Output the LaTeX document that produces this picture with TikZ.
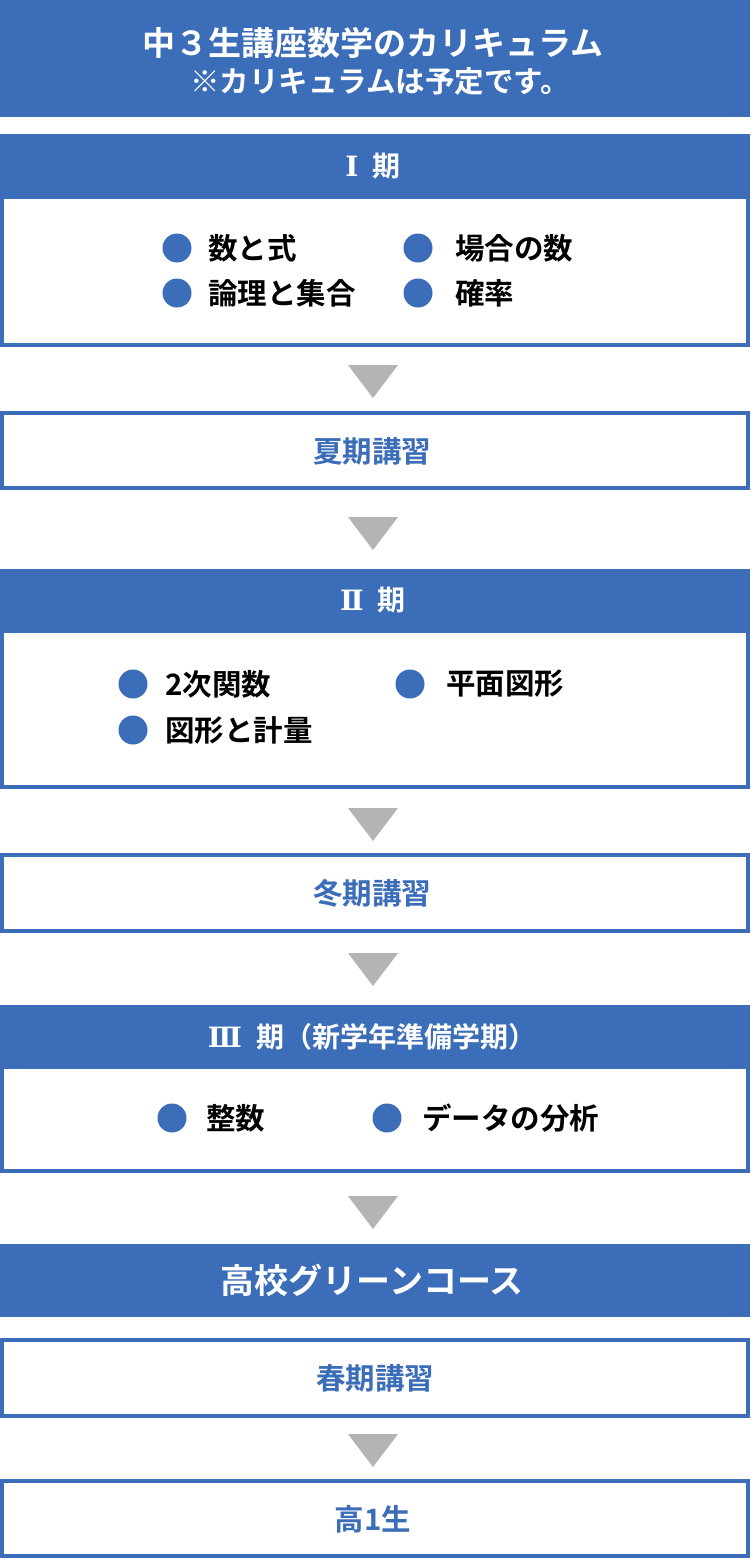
\documentclass[tikz,border=0pt]{standalone}
\usepackage{fontspec}
\setmainfont{Noto Sans CJK JP}[BoldFont={Noto Sans CJK JP Bold}]
\newfontfamily\romanfont{DejaVu Serif}
\usetikzlibrary{calc}
\definecolor{mainblue}{RGB}{59,109,185}
\definecolor{trigray}{RGB}{180,180,180}
\tikzset{
  x=1pt, y=-1pt,
  filledbar/.style={fill=mainblue, draw=none},
  outlinebox/.style={draw=mainblue, line width=4pt, fill=white},
  whitetext/.style={text=white, font=\bfseries\fontsize{28}{32}\selectfont, inner sep=0pt},
  bluetext/.style={text=mainblue, font=\bfseries\fontsize{29.5}{33}\selectfont, inner sep=0pt},
  itemtext/.style={text=black, font=\bfseries\fontsize{29.5}{33}\selectfont, inner sep=0pt, anchor=west},
  dot/.style={circle, fill=mainblue, minimum size=29pt, inner sep=0pt},
  downtri/.style={fill=trigray}
}
\newcommand{\rnum}[1]{{\romanfont\bfseries #1}\hspace{14pt}}
\newcommand{\downarrowmark}[2]{% top y, name
  \coordinate (#2) at (373,#1);
  \fill[downtri] ($(#2)+(-25,0)$) -- ($(#2)+(25,0)$) -- ($(#2)+(0,33)$) -- cycle;
}
\begin{document}
\begin{tikzpicture}
\useasboundingbox (0,0) rectangle (750,1561);
\fill[white] (0,0) rectangle (750,1561);

% Title
\fill[filledbar] (0,0) rectangle (750,117);
\node[whitetext, font=\bfseries\fontsize{33}{36}\selectfont] (title1) at (373,43) {中３生講座数学のカリキュラム};
\node[whitetext, font=\bfseries\fontsize{29.5}{32}\selectfont] (title2) at (380,81) {※カリキュラムは予定です。};

% Phase I
\draw[outlinebox] (2,197) rectangle (748,345);
\fill[filledbar] (0,134) rectangle (750,197);
\node[whitetext] (p1) at (373,166) {\rnum{Ⅰ}期};
\node[dot] (d11) at (177,248) {};
\node[itemtext] (t11) at (208,248) {数と式};
\node[dot] (d12) at (418,248) {};
\node[itemtext] (t12) at (455,248) {場合の数};
\node[dot] (d13) at (177,293) {};
\node[itemtext] (t13) at (208,293) {論理と集合};
\node[dot] (d14) at (418,293) {};
\node[itemtext] (t14) at (455,293) {確率};

\downarrowmark{365}{a1}

% Summer
\draw[outlinebox] (2,413) rectangle (748,488);
\node[bluetext] (summer) at (372,451) {夏期講習};

\downarrowmark{517}{a2}

% Phase II
\draw[outlinebox] (2,631) rectangle (748,787);
\fill[filledbar] (0,569) rectangle (750,631);
\node[whitetext] (p2) at (373,600) {\rnum{Ⅱ}期};
\node[dot] (d21) at (133,684) {};
\node[itemtext] (t21) at (165,684) {2次関数};
\node[dot] (d22) at (410,684) {};
\node[itemtext] (t22) at (446,684) {平面図形};
\node[dot] (d23) at (133,730) {};
\node[itemtext] (t23) at (165,730) {図形と計量};

\downarrowmark{808}{a3}

% Winter
\draw[outlinebox] (2,855) rectangle (748,931);
\node[bluetext] (winter) at (372,893) {冬期講習};

\downarrowmark{953}{a4}

% Phase III
\draw[outlinebox] (2,1067) rectangle (748,1171);
\fill[filledbar] (0,1005) rectangle (750,1067);
\node[whitetext] (p3) at (372,1037) {\rnum{Ⅲ}期（新学年準備学期）};
\node[dot] (d31) at (172,1118) {};
\node[itemtext] (t31) at (206,1118) {整数};
\node[dot] (d32) at (387,1118) {};
\node[itemtext] (t32) at (422,1118) {データの分析};

\downarrowmark{1196}{a5}

% Green course
\fill[filledbar] (0,1244) rectangle (750,1317);
\node[whitetext, font=\bfseries\fontsize{34}{38}\selectfont] (green) at (372,1280) {高校グリーンコース};

% Spring
\draw[outlinebox] (2,1340) rectangle (748,1416);
\node[bluetext] (spring) at (375,1378) {春期講習};

\downarrowmark{1434}{a6}

% Koukou 1
\draw[outlinebox] (2,1481) rectangle (748,1556);
\node[bluetext] (k1) at (373,1519) {高1生};
\end{tikzpicture}
\end{document}
